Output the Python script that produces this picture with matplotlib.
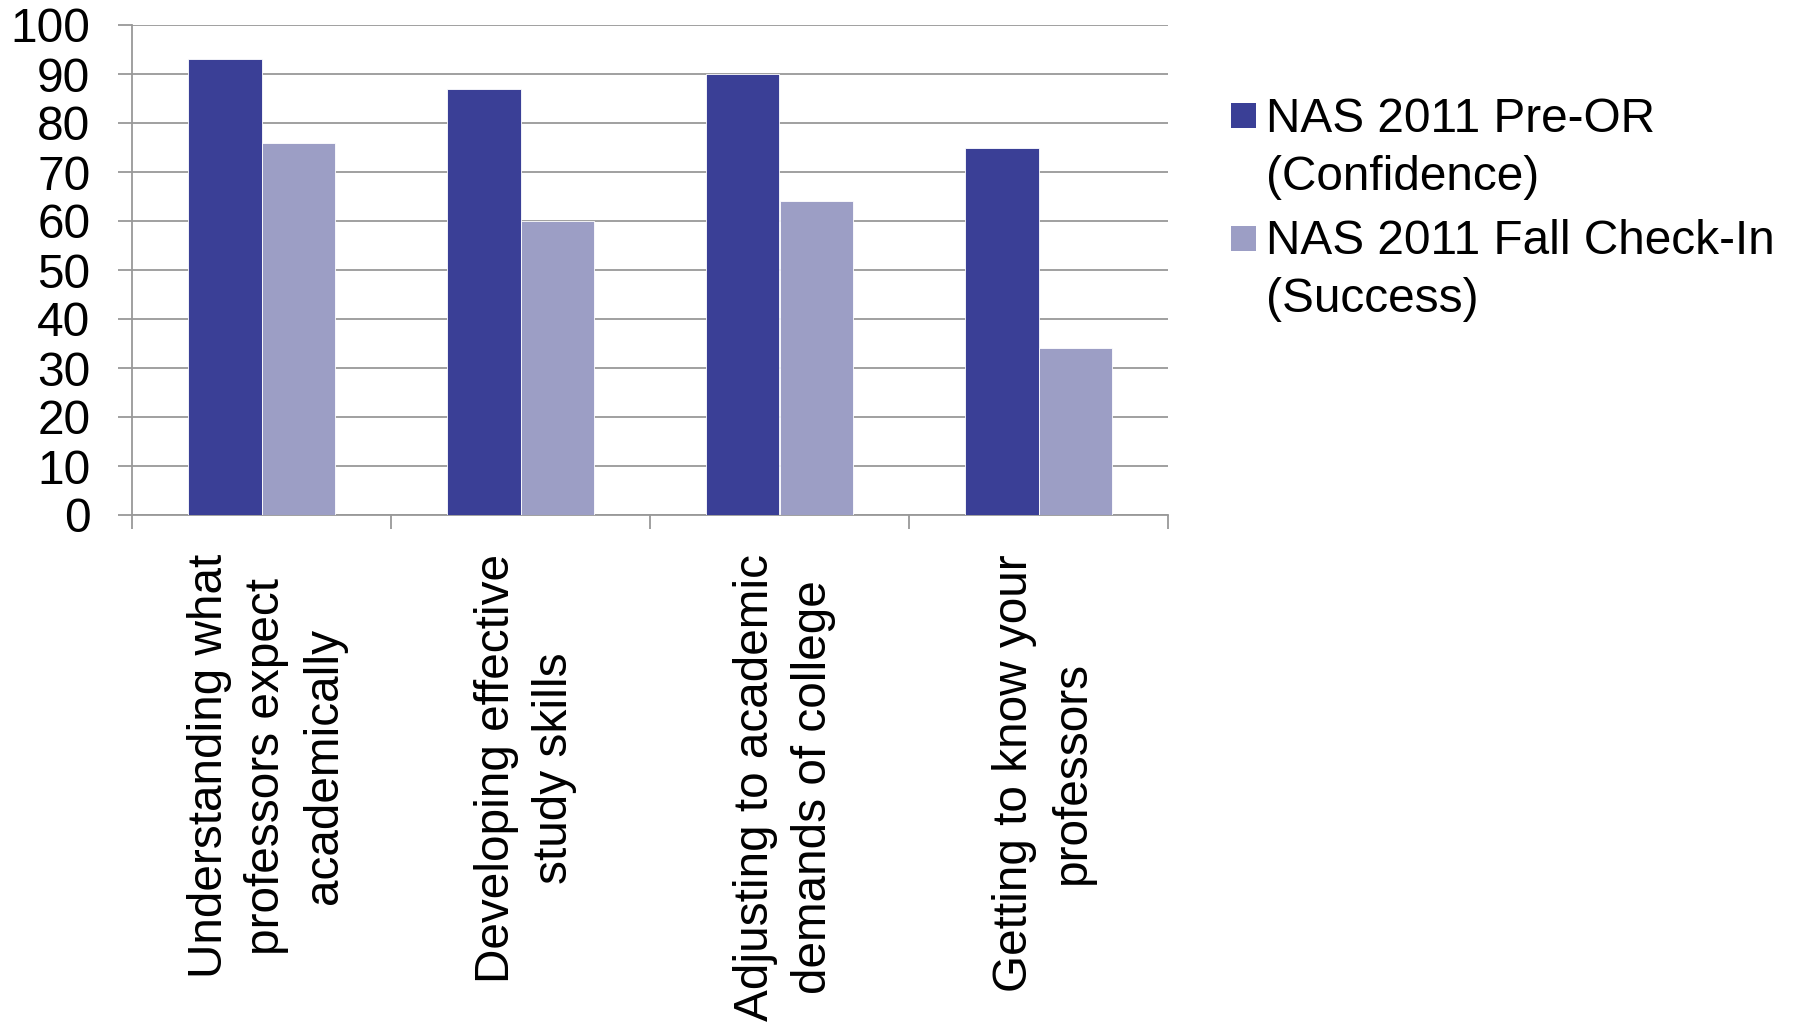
import matplotlib
matplotlib.use("Agg")
import matplotlib.pyplot as plt
from matplotlib.patches import Rectangle
import numpy as np

categories = [
    "Understanding what\nprofessors expect\nacademically",
    "Developing effective\nstudy skills",
    "Adjusting to academic\ndemands of college",
    "Getting to know your\nprofessors",
]
series_names = ["NAS 2011 Pre-OR\n(Confidence)", "NAS 2011 Fall Check-In\n(Success)"]
pre_or = [93, 87, 90, 75]
fall_checkin = [76, 60, 64, 34]
yticks = [0, 10, 20, 30, 40, 50, 60, 70, 80, 90, 100]

dark = "#3A3F96"
light = "#9C9EC5"
grid_c = "#999999"
FS = 34.4
LS = 1.36

plt.rcParams["font.family"] = ["Liberation Sans", "DejaVu Sans"]

W, H = 1795, 1024
fig = plt.figure(figsize=(W / 100, H / 100), dpi=100)

def px(x0, y0, x1, y1):
    return [x0 / W, 1 - y1 / H, (x1 - x0) / W, (y1 - y0) / H]

ax = fig.add_axes(px(132, 25, 1168, 515))

x = np.arange(len(categories))
bw = 0.285
ax.bar(x - bw / 2, pre_or, bw, color=dark, edgecolor="#ffffff", linewidth=0.6, zorder=3)
ax.bar(x + bw / 2, fall_checkin, bw, color=light, edgecolor="#ffffff", linewidth=0.6, zorder=3)

ax.set_xlim(-0.5, len(categories) - 0.5)
ax.set_ylim(0, 100)
ax.set_yticks(yticks)
ax.set_yticklabels([str(v) for v in yticks], fontsize=FS)
ax.yaxis.grid(True, color=grid_c, linewidth=1.3, zorder=0)
ax.set_axisbelow(True)

# category boundaries as major ticks, labels on minor ticks at the centres
ax.set_xticks(np.arange(len(categories) + 1) - 0.5)
ax.set_xticklabels([])
ax.set_xticks(x + 0.02, minor=True)
ax.set_xticklabels(categories, minor=True, rotation=90, fontsize=FS,
                   va="top", ha="center", multialignment="center", linespacing=LS)

ax.tick_params(axis="x", which="major", direction="out", length=10, width=1.3, color=grid_c)
ax.tick_params(axis="x", which="minor", length=0, pad=28)
ax.tick_params(axis="y", direction="out", length=10, width=1.3, color=grid_c, pad=20)

for s in ["top", "right"]:
    ax.spines[s].set_visible(False)
for s in ["left", "bottom"]:
    ax.spines[s].set_color(grid_c)
    ax.spines[s].set_linewidth(1.3)

# legend drawn in figure pixels
entries = [(dark, 103, 148.5), (light, 226, 270.5)]
for (c, sq_top, text_mid), name in zip(entries, series_names):
    fig.patches.append(Rectangle((1231 / W, 1 - (sq_top + 25) / H), 25 / W, 25 / H,
                                 transform=fig.transFigure, facecolor=c, edgecolor="none"))
    fig.text(1266 / W, 1 - text_mid / H, name, fontsize=FS, va="center", ha="left",
             linespacing=LS)

fig.savefig("out.png", dpi=100, facecolor="white")
